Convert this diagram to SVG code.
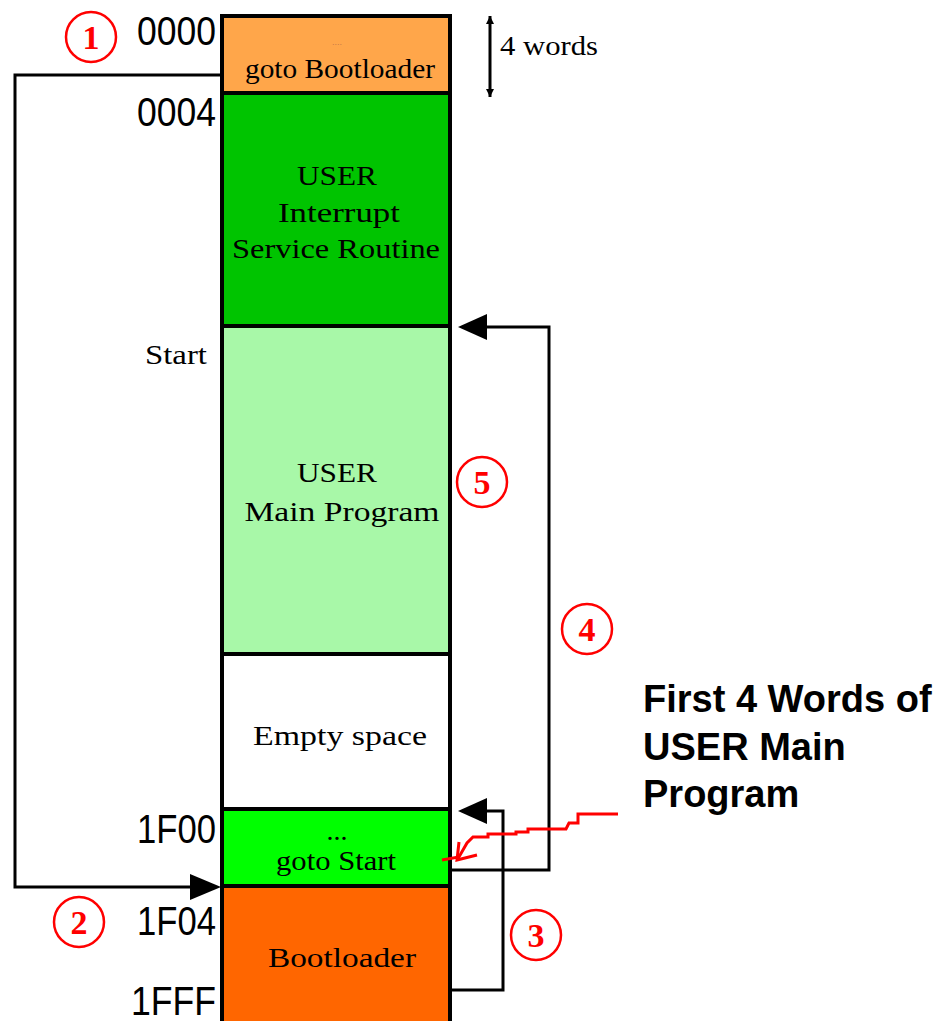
<svg xmlns="http://www.w3.org/2000/svg" width="944" height="1021" viewBox="0 0 944 1021">
<style>
.con{fill:none;stroke:#000;stroke-width:3}
.addr{font-family:"Liberation Sans",Arial,sans-serif;font-size:40px;fill:#000;text-anchor:end}
.ser{font-family:"Liberation Serif","Times New Roman",serif;font-size:28px;fill:#000;text-anchor:middle}
.num{fill:none;stroke:#f00;stroke-width:2.5}
.numt{font-family:"Liberation Serif","Times New Roman",serif;font-size:34px;font-weight:bold;fill:#f00;text-anchor:middle}
.note{font-family:"Liberation Sans",Arial,sans-serif;font-size:38px;font-weight:bold;fill:#000}
</style>
<defs>
<marker id="ah" viewBox="0 0 10 10" refX="10" refY="5" markerWidth="8" markerHeight="8" orient="auto-start-reverse" markerUnits="userSpaceOnUse">
<path d="M0,0 L10,5 L0,10 z" fill="#000"/>
</marker>
</defs>
<rect width="944" height="1021" fill="#fff"/>

<g id="boot-vector">
<rect x="222" y="16" width="228" height="77" fill="#FFA64A" stroke="#000" stroke-width="4"/>
<text x="337" y="45" font-family="Liberation Sans, sans-serif" font-size="9" fill="#c87a48" text-anchor="middle">....</text>
<text class="ser" x="340" y="78" textLength="190" lengthAdjust="spacingAndGlyphs">goto  Bootloader</text>
</g>
<g id="isr">
<rect x="222" y="93" width="228" height="233" fill="#00C400" stroke="#000" stroke-width="4"/>
<text class="ser" x="337" y="185" textLength="80" lengthAdjust="spacingAndGlyphs">USER</text>
<text class="ser" x="339" y="222" textLength="122" lengthAdjust="spacingAndGlyphs">Interrupt</text>
<text class="ser" x="336" y="258" textLength="208" lengthAdjust="spacingAndGlyphs">Service Routine</text>
</g>
<g id="main">
<rect x="222" y="326" width="228" height="328" fill="#A8F8A8" stroke="#000" stroke-width="4"/>
<text class="ser" x="337" y="482" textLength="80" lengthAdjust="spacingAndGlyphs">USER</text>
<text class="ser" x="342" y="521" textLength="195" lengthAdjust="spacingAndGlyphs">Main Program</text>
</g>
<g id="empty">
<rect x="222" y="654" width="228" height="155" fill="#fff" stroke="#000" stroke-width="4"/>
<text class="ser" x="340" y="745" textLength="174" lengthAdjust="spacingAndGlyphs">Empty space</text>
</g>
<g id="reloc">
<rect x="222" y="809" width="228" height="77" fill="#00FF00" stroke="#000" stroke-width="4"/>
<text class="ser" x="337" y="840">...</text>
<text class="ser" x="336" y="870" textLength="120" lengthAdjust="spacingAndGlyphs">goto  Start</text>
</g>
<g id="bootloader">
<rect x="222" y="886" width="228" height="140" fill="#FF6600" stroke="#000" stroke-width="4"/>
<text class="ser" x="342" y="967" textLength="148" lengthAdjust="spacingAndGlyphs">Bootloader</text>
</g>

<g id="labels">
<text class="addr" x="216" y="45" textLength="79" lengthAdjust="spacingAndGlyphs">0000</text>
<text class="addr" x="216" y="126" textLength="79" lengthAdjust="spacingAndGlyphs">0004</text>
<text class="addr" x="216" y="843" textLength="79" lengthAdjust="spacingAndGlyphs">1F00</text>
<text class="addr" x="216" y="935" textLength="79" lengthAdjust="spacingAndGlyphs">1F04</text>
<text class="addr" x="216" y="1015" textLength="85" lengthAdjust="spacingAndGlyphs">1FFF</text>
<text x="145" y="364" font-family="Liberation Serif, serif" font-size="27" textLength="62" lengthAdjust="spacingAndGlyphs">Start</text>
<text x="500" y="55" font-family="Liberation Serif, serif" font-size="28" textLength="98" lengthAdjust="spacingAndGlyphs">4 words</text>
<text class="note" x="643" y="712">First 4 Words of</text>
<text class="note" x="643" y="760">USER Main</text>
<text class="note" x="643" y="807">Program</text>
</g>

<g id="markers">
<circle class="num" cx="91" cy="37" r="25"/><text class="numt" x="91" y="49">1</text>
<circle class="num" cx="79" cy="922" r="25"/><text class="numt" x="79" y="934">2</text>
<circle class="num" cx="536" cy="935" r="25"/><text class="numt" x="536" y="947">3</text>
<circle class="num" cx="587" cy="629" r="25"/><text class="numt" x="587" y="641">4</text>
<circle class="num" cx="482" cy="482" r="25"/><text class="numt" x="482" y="494">5</text>
</g>

<g id="connectors">
<line class="con" x1="490" y1="16" x2="490" y2="97" marker-start="url(#ah)" marker-end="url(#ah)" stroke-width="2.5"/>
<polyline class="con" points="222,75 15,75 15,887 200,887"/>
<polygon points="221,887 190,874 190,900" fill="#000"/>
<polyline class="con" points="451,870 549,870 549,327 480,327"/>
<polygon points="458,327 487,314 487,340" fill="#000"/>
<polyline class="con" points="451,990 503,990 503,811 480,811"/>
<polygon points="458,811 487,798 487,824" fill="#000"/>
<polyline fill="none" stroke="#f00" stroke-width="3" points="618,814 578,814 578,823 569,823 566,829 528,829 528,832 516,832 516,834 488,834 488,837 473,837 467,843 459,857 442,860"/>
<polyline fill="none" stroke="#f00" stroke-width="3" points="459,842 457,860 477,855"/>
</g>
</svg>
